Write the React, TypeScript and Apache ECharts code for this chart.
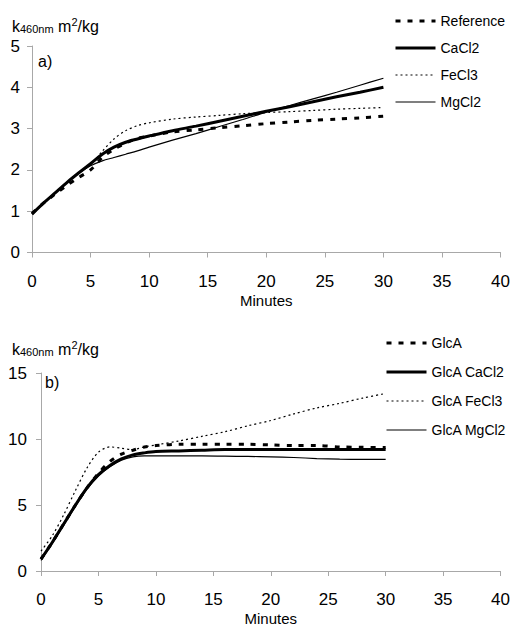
import React, { useEffect, useRef } from "react";
import * as echarts from "echarts";

const minutes = [0, 1, 2, 3, 4, 5, 6, 7, 8, 9, 10, 12, 14, 16, 18, 20, 22, 24, 26, 28, 30];

const namesA = ["Reference", "CaCl2", "FeCl3", "MgCl2"];
const referenceA = [0.95, 1.2, 1.42, 1.63, 1.82, 2.0, 2.3, 2.5, 2.65, 2.76, 2.82, 2.92, 2.97, 3.02, 3.07, 3.12, 3.16, 3.2, 3.23, 3.26, 3.3];
const cacl2A = [0.93, 1.2, 1.45, 1.7, 1.93, 2.15, 2.38, 2.55, 2.67, 2.75, 2.82, 2.95, 3.06, 3.18, 3.3, 3.42, 3.53, 3.65, 3.77, 3.88, 4.0];
const fecl3A = [0.95, 1.2, 1.45, 1.7, 1.93, 2.12, 2.45, 2.75, 2.95, 3.07, 3.14, 3.23, 3.28, 3.32, 3.36, 3.39, 3.41, 3.44, 3.47, 3.49, 3.51];
const mgcl2A = [0.93, 1.2, 1.45, 1.7, 1.92, 2.1, 2.22, 2.3, 2.38, 2.46, 2.55, 2.72, 2.88, 3.05, 3.22, 3.4, 3.56, 3.72, 3.88, 4.05, 4.22];

const namesB = ["GlcA", "GlcA CaCl2", "GlcA FeCl3", "GlcA MgCl2"];
const glcaB = [0.9, 2.2, 3.6, 5.0, 6.3, 7.4, 8.3, 8.85, 9.15, 9.4, 9.5, 9.6, 9.6, 9.6, 9.6, 9.55, 9.5, 9.5, 9.4, 9.37, 9.35];
const cacl2B = [0.9, 2.2, 3.6, 5.0, 6.3, 7.3, 8.0, 8.5, 8.8, 8.95, 9.05, 9.1, 9.15, 9.2, 9.2, 9.2, 9.2, 9.2, 9.2, 9.2, 9.2];
const fecl3B = [1.5, 2.7, 4.3, 6.1, 7.8, 9.0, 9.4, 9.3, 9.2, 9.4, 9.55, 9.85, 10.2, 10.55, 11.0, 11.4, 11.9, 12.35, 12.7, 13.1, 13.45];
const mgcl2B = [0.8, 2.1, 3.5, 4.9, 6.2, 7.2, 7.9, 8.4, 8.65, 8.72, 8.72, 8.72, 8.72, 8.7, 8.68, 8.65, 8.6, 8.52, 8.47, 8.45, 8.45];

const xTicks = { min: 0, max: 40, interval: 5 };
const yTicksA = { min: 0, max: 5, interval: 1 };
const yTicksB = { min: 0, max: 15, interval: 5 };

const FONT = "Liberation Sans";
const AXIS_COLOR = "#a8a8a8";

const styles = [
  { width: 3, type: [5, 7] as any },
  { width: 3, type: "solid" as any },
  { width: 1.2, type: [2, 3] as any },
  { width: 1.2, type: "solid" as any },
];

function pairs(ys: number[]) {
  return minutes.map((m, i) => [m, ys[i]]);
}

function yLabel(x: number, y: number) {
  return {
    type: "text",
    left: x,
    top: y,
    style: {
      text: "{n|k}{sub|460nm}{n| m}{sup|2}{n|/kg}",
      fill: "#000",
      font: `15px "${FONT}"`,
      rich: {
        n: { fontSize: 16, fontFamily: FONT, lineHeight: 18, verticalAlign: "bottom", fill: "#000" },
        sub: { fontSize: 11, fontFamily: FONT, lineHeight: 12, verticalAlign: "bottom", fill: "#000" },
        sup: { fontSize: 11, fontFamily: FONT, lineHeight: 12, verticalAlign: "top", fill: "#000" },
      },
    },
  };
}

export default function App() {
  const ref = useRef<HTMLDivElement>(null);
  useEffect(() => {
    if (!ref.current) return;
    const chart = echarts.init(ref.current, undefined, { renderer: "svg" });
    const xAxisBase = (gridIndex: number) => ({
      type: "value",
      gridIndex,
      ...xTicks,
      name: "Minutes",
      nameLocation: "middle",
      nameGap: 40,
      nameTextStyle: { fontFamily: FONT, fontSize: 15, color: "#000" },
      axisLine: { show: true, lineStyle: { color: AXIS_COLOR, width: 1 } },
      axisTick: { show: true, length: 5, lineStyle: { color: AXIS_COLOR } },
      axisLabel: { margin: 20, fontFamily: FONT, fontSize: 17, color: "#000" },
      splitLine: { show: false },
    });
    const yAxisBase = (gridIndex: number, t: any, margin: number) => ({
      type: "value",
      gridIndex,
      ...t,
      axisLine: { show: true, lineStyle: { color: AXIS_COLOR, width: 1 } },
      axisTick: { show: true, length: 5, lineStyle: { color: AXIS_COLOR } },
      axisLabel: { margin, fontFamily: FONT, fontSize: 17, color: "#000" },
      splitLine: { show: false },
    });
    const mk = (name: string, ys: number[], idx: number, k: number) => ({
      name,
      type: "line",
      xAxisIndex: idx,
      yAxisIndex: idx,
      data: pairs(ys),
      smooth: 0.3,
      symbol: "none",
      showSymbol: false,
      lineStyle: { color: "#000", width: styles[k].width, type: styles[k].type },
      itemStyle: { color: "#000" },
    });
    const legendBase = (names: string[], left: number, top: number, gap: number) => ({
      data: names.map((n, k) => ({
        name: n,
        lineStyle: { color: "#000", width: styles[k].width, type: styles[k].type },
      })),
      left,
      top,
      padding: 0,
      orient: "vertical",
      itemWidth: 40,
      itemHeight: 14,
      itemGap: gap,
      itemStyle: { color: "transparent", borderWidth: 0, opacity: 0 },
      textStyle: { fontFamily: FONT, fontSize: 14, color: "#000" },
    });
    chart.setOption({
      animation: false,
      backgroundColor: "#fff",
      grid: [
        { left: 32, right: 10, top: 46, height: 206.5 },
        { left: 41, right: 10, top: 373, height: 199 },
      ],
      xAxis: [xAxisBase(0), xAxisBase(1)],
      yAxis: [yAxisBase(0, yTicksA, 12), yAxisBase(1, yTicksB, 14)],
      legend: [legendBase(namesA, 394, 14, 13), legendBase(namesB, 385, 336, 15)],
      series: [
        mk(namesA[0], referenceA, 0, 0),
        mk(namesA[1], cacl2A, 0, 1),
        mk(namesA[2], fecl3A, 0, 2),
        mk(namesA[3], mgcl2A, 0, 3),
        mk(namesB[0], glcaB, 1, 0),
        mk(namesB[1], cacl2B, 1, 1),
        mk(namesB[2], fecl3B, 1, 2),
        mk(namesB[3], mgcl2B, 1, 3),
      ],
      graphic: [
        yLabel(12, 16),
        yLabel(12, 339),
        { type: "text", left: 38, top: 53, style: { text: "a)", font: `16px "${FONT}"`, fill: "#000" } },
        { type: "text", left: 45, top: 374, style: { text: "b)", font: `16px "${FONT}"`, fill: "#000" } },
      ],
    });
    return () => chart.dispose();
  }, []);
  return (
    <div
      ref={ref}
      style={{ position: "absolute", left: 0, top: 0, width: 513, height: 627, background: "#fff" }}
    />
  );
}
